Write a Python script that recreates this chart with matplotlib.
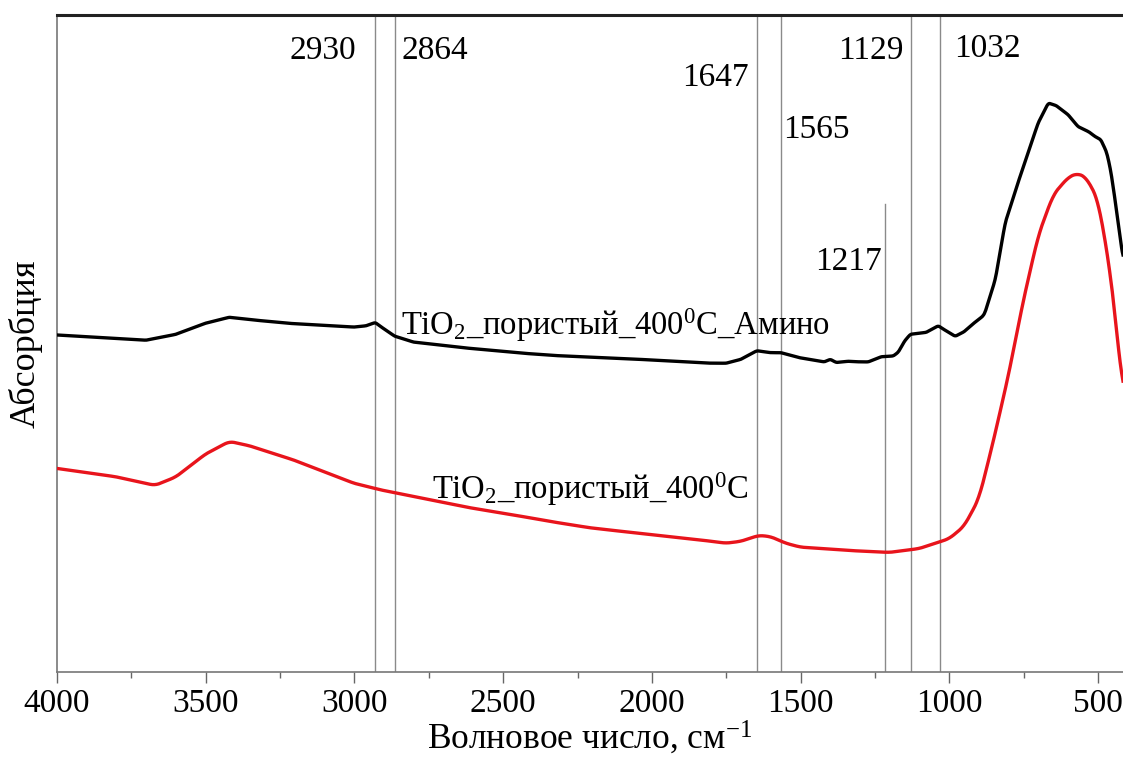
import numpy as np
import matplotlib
matplotlib.use("Agg")
import matplotlib.pyplot as plt

plt.rcParams["font.family"] = ["Liberation Serif", "DejaVu Serif"]
plt.rcParams["mathtext.fontset"] = "custom"
plt.rcParams["mathtext.rm"] = "Liberation Serif"
plt.rcParams["mathtext.it"] = "Liberation Serif"

# Spectrum of the amino-modified sample (wavenumber, cm-1 ; absorbance, a.u.)
wn_amino = [4000, 3700, 3600, 3500, 3420, 3300, 3200, 3000, 2960, 2930, 2900, 2864,
            2800, 2600, 2400, 2300, 2000, 1800, 1750, 1700, 1647, 1600, 1565, 1500,
            1420, 1400, 1380, 1339, 1300, 1272, 1228, 1188, 1171, 1150, 1131, 1077,
            1037, 1010, 980, 950, 912, 886, 879, 845, 812, 758, 701, 667, 640, 600,
            567, 530, 510, 490, 470, 456, 440, 416]
ab_amino = [0.513, 0.505, 0.514, 0.531, 0.540, 0.534, 0.530, 0.525, 0.527, 0.532, 0.522, 0.511,
            0.502, 0.492, 0.484, 0.481, 0.475, 0.470, 0.470, 0.476, 0.489, 0.486, 0.486, 0.478,
            0.472, 0.476, 0.471, 0.473, 0.472, 0.472, 0.480, 0.481, 0.487, 0.504, 0.514, 0.517,
            0.527, 0.519, 0.511, 0.518, 0.533, 0.542, 0.548, 0.598, 0.684, 0.760, 0.836, 0.866,
            0.862, 0.848, 0.830, 0.822, 0.815, 0.810, 0.790, 0.760, 0.710, 0.630]

# Spectrum of the unmodified sample
wn_plain = [4000, 3800, 3700, 3670, 3600, 3500, 3420, 3350, 3200, 3000, 2900, 2800,
            2600, 2400, 2300, 2200, 2000, 1800, 1750, 1700, 1640, 1600, 1550, 1500,
            1400, 1300, 1200, 1100, 1000, 950, 900, 850, 800, 750, 700, 650, 600,
            570, 540, 500, 460, 430, 416]
ab_plain = [0.310, 0.297, 0.287, 0.284, 0.297, 0.332, 0.351, 0.344, 0.322, 0.287, 0.276, 0.267,
            0.249, 0.234, 0.226, 0.219, 0.209, 0.199, 0.196, 0.199, 0.208, 0.206, 0.196, 0.190,
            0.187, 0.184, 0.182, 0.188, 0.203, 0.222, 0.264, 0.355, 0.454, 0.568, 0.666, 0.727,
            0.753, 0.759, 0.753, 0.719, 0.613, 0.492, 0.420]

# Marked band positions and their labels
bands = [2930, 2864, 1647, 1565, 1217, 1129, 1032]
band_labels = ["2930", "2864", "1647", "1565", "1217", "1129", "1032"]
band_label_y = [0.945, 0.945, 0.905, 0.825, 0.625, 0.945, 0.948]
band_label_side = ["left", "right", "left", "right", "left", "left", "right"]
band_label_gap = [13.5, 5, 5.5, 1.5, 2, 5.5, 10]   # points between line and text
band_line_top = [1.0, 1.0, 1.0, 1.0, 0.712, 1.0, 1.0]

label_amino = "TiO$_2$_пористый_400$^0$C_Амино"
label_plain = "TiO$_2$_пористый_400$^0$C"


def smooth_curve(x, y, n=1500, win=9):
    xs = np.linspace(min(x), max(x), n)
    order = np.argsort(x)
    ys = np.interp(xs, np.asarray(x)[order], np.asarray(y)[order])
    k = np.ones(win) / win
    pad = win // 2
    yp = np.pad(ys, pad, mode="edge")
    return xs, np.convolve(yp, k, mode="valid")


fig = plt.figure(figsize=(11.23, 7.58), dpi=100)
ax = fig.add_axes([57 / 1123, 86 / 758, 1 - 57 / 1123, (672 - 15) / 758])

for wn, top in zip(bands, band_line_top):
    ax.plot([wn, wn], [0, top], color="#8a8a8a", lw=1.0, zorder=1)

xa, ya = smooth_curve(wn_amino, ab_amino, win=5)
xp, yp = smooth_curve(wn_plain, ab_plain, win=15)
ax.plot(xa, ya, color="black", lw=2.4, zorder=3)
ax.plot(xp, yp, color="#e8141c", lw=2.4, zorder=3)

for wn, txt, yy, side, gap in zip(bands, band_labels, band_label_y,
                                  band_label_side, band_label_gap):
    dx = -gap if side == "left" else gap
    ax.annotate(txt, (wn, yy), xytext=(dx, 0), textcoords="offset points",
                ha="right" if side == "left" else "left", va="center",
                fontsize=24)

ax.text(2843, 0.528, label_amino, fontsize=23.5, va="center", ha="left")
ax.text(2738, 0.278, label_plain, fontsize=23.5, va="center", ha="left")

ax.set_xlim(4000, 416)
ax.set_ylim(0, 1)
ax.set_xticks([4000, 3500, 3000, 2500, 2000, 1500, 1000, 500])
ax.set_xticks([3750, 3250, 2750, 2250, 1750, 1250, 750], minor=True)
ax.set_yticks([])
ax.tick_params(axis="x", which="major", direction="out", length=8, width=1,
               color="#666666", labelsize=24, pad=4)
ax.tick_params(axis="x", which="minor", direction="out", length=4, width=1,
               color="#666666")

ax.spines["right"].set_visible(False)
ax.spines["left"].set_color("#777777")
ax.spines["left"].set_linewidth(1.2)
ax.spines["bottom"].set_color("#777777")
ax.spines["bottom"].set_linewidth(1.2)
ax.spines["top"].set_color("#222222")
ax.spines["top"].set_linewidth(2.2)

ax.set_xlabel("Волновое число, см$^{-1}$", fontsize=25.5, labelpad=0)
ax.set_ylabel("Абсорбция", fontsize=26, labelpad=10)

fig.savefig("out.png", dpi=100)
